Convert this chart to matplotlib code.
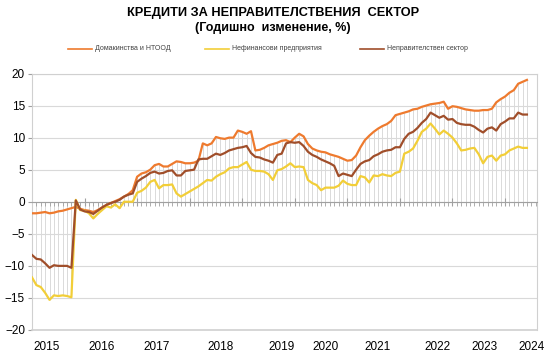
#!/usr/bin/env python3
# Loans to the non-government sector, annual change (%), monthly 2015-2024
import numpy as np
import matplotlib
matplotlib.use("Agg")
import matplotlib.pyplot as plt
from matplotlib.lines import Line2D
from matplotlib.transforms import blended_transform_factory

plt.rcParams['font.family'] = ['Liberation Sans', 'DejaVu Sans']

#==============================================================================
# Data (monthly, Jan 2015 .. Jun 2024)
#==============================================================================
households = [
    -1.8, -1.8, -1.7, -1.6, -1.8, -1.7, -1.5, -1.4, -1.2, -1.0, -0.8, -1.1,
    -1.3, -1.4, -1.6, -1.3, -0.9, -0.5, -0.2, 0.1, 0.4, 0.8, 1.2, 1.8,
    3.9, 4.4, 4.6, 5.0, 5.7, 5.9, 5.5, 5.5, 5.9, 6.3, 6.2, 6.0,
    6.0, 6.1, 6.4, 9.1, 8.8, 9.1, 10.1, 9.9, 9.8, 10.0, 10.0, 11.1,
    10.9, 10.6, 11.0, 8.0, 8.1, 8.4, 8.8, 9.0, 9.2, 9.5, 9.6, 9.3,
    10.0, 10.6, 10.2, 9.0, 8.3, 8.0, 7.8, 7.7, 7.4, 7.2, 7.0, 6.7,
    6.4, 6.5, 7.2, 8.5, 9.6, 10.3, 10.9, 11.4, 11.8, 12.1, 12.6, 13.5,
    13.7, 13.9, 14.1, 14.4, 14.5, 14.8, 15.0, 15.2, 15.3, 15.4, 15.6, 14.5,
    14.9, 14.8, 14.6, 14.4, 14.3, 14.2, 14.2, 14.3, 14.3, 14.5, 15.5, 16.0,
    16.4, 17.0, 17.4, 18.4, 18.7, 19.0,
]
companies = [
    -11.8, -13.0, -13.3, -14.2, -15.3, -14.6, -14.7, -14.6, -14.7, -14.9, 0.3, -1.3,
    -1.4, -1.8, -2.6, -1.9, -1.3, -0.7, -0.9, -0.4, -1.0, 0.0, 0.0, 0.0,
    1.4, 1.7, 2.2, 3.1, 3.4, 2.1, 2.6, 2.6, 2.7, 1.3, 0.8, 1.2,
    1.6, 2.0, 2.4, 2.9, 3.4, 3.3, 3.9, 4.3, 4.6, 5.2, 5.4, 5.4,
    5.8, 6.2, 5.0, 4.8, 4.8, 4.7, 4.3, 3.4, 4.9, 5.1, 5.5, 6.0,
    5.4, 5.5, 5.4, 3.4, 2.9, 2.6, 1.8, 2.2, 2.2, 2.2, 2.5, 3.3,
    2.8, 2.6, 2.6, 4.0, 3.8, 3.0, 4.1, 4.0, 4.3, 4.1, 4.0, 4.5,
    4.7, 7.5, 7.8, 8.3, 9.5, 10.9, 11.4, 12.2, 11.4, 10.5, 11.1, 10.6,
    10.0, 9.1, 8.0, 8.1, 8.3, 8.4, 7.4, 6.0, 7.0, 7.2, 6.4, 7.2,
    7.4, 8.0, 8.3, 8.6, 8.4, 8.4,
]
non_gov = [
    -8.3, -8.9, -9.0, -9.6, -10.3, -9.9, -10.0, -10.0, -10.0, -10.3, 0.2, -1.2,
    -1.5, -1.6, -1.9, -1.4, -0.9, -0.5, -0.2, 0.0, 0.3, 0.8, 1.1, 1.3,
    3.1, 3.6, 4.0, 4.5, 4.7, 4.4, 4.5, 4.8, 4.9, 4.1, 4.1, 4.8,
    4.9, 5.0, 6.6, 6.7, 6.7, 7.1, 7.5, 7.3, 7.6, 8.0, 8.2, 8.4,
    8.5, 8.7, 7.6, 7.0, 6.9, 6.6, 6.4, 6.1, 7.3, 7.5, 9.1, 9.3,
    9.2, 9.3, 8.7, 7.8, 7.3, 7.0, 6.6, 6.3, 6.0, 5.6, 4.0, 4.4,
    4.2, 4.0, 5.0, 5.9, 6.3, 6.5, 7.1, 7.4, 7.8, 8.0, 8.1, 8.5,
    8.5, 9.8, 10.6, 10.9, 11.5, 12.3, 12.9, 13.9, 13.5, 13.1, 13.4, 12.8,
    12.9, 12.3, 12.1, 12.0, 12.0, 11.7, 11.2, 10.8, 11.4, 11.6, 11.1, 12.1,
    12.5, 13.0, 13.0, 13.9, 13.6, 13.6,
]
years = ["2015", "2016", "2017", "2018", "2019", "2020", "2021", "2022", "2023", "2024"]
labels = ["Домакинства и НТООД", "Нефинансови предприятия", "Неправителствен сектор"]

#==============================================================================
# Layout / style
#==============================================================================
colors = ["#EE7A2E", "#F2CE38", "#A04E2A"]
year_label_x = [3.4, 16.0, 28.5, 43.0, 57.0, 67.0, 79.0, 92.5, 103.4, 114.0]
n_slots = 115.3

series = [households, companies, non_gov]
x = np.arange(len(households))

fig = plt.figure(figsize=(5.54, 3.58), dpi=100)
ax = fig.add_axes([32 / 554, 1 - 330 / 358, 505 / 554, 256.5 / 358])

# drop lines
allv = np.array(series)
lo = np.minimum(0, allv.min(axis=0))
hi = np.maximum(0, allv.max(axis=0))
ax.vlines(x, lo, hi, color="#cccccc", lw=0.5, zorder=1)

for s, c in zip(series, colors):
    ax.plot(x, s, color=c, lw=1.6, zorder=3)

ax.set_xlim(0, n_slots)
ax.set_ylim(-20, 20)
ax.set_yticks(np.arange(-20, 21, 5))
ax.yaxis.grid(True, color="#d9d9d9", lw=0.8, zorder=0)
ax.tick_params(axis="y", direction="out", length=3, color="#a0a0a0",
               labelsize=8.5, pad=2)

# zero axis with month / year ticks
ax.spines["bottom"].set_position(("data", 0))
ax.spines["bottom"].set_color("#a0a0a0")
ax.set_xticks(np.arange(12, n_slots, 12))
ax.set_xticks(np.arange(0, n_slots, 1), minor=True)
ax.tick_params(axis="x", which="major", direction="inout", length=6,
               color="#a0a0a0", labelbottom=False)
ax.tick_params(axis="x", which="minor", direction="out", length=3,
               color="#a0a0a0", width=0.6)
for side in ["left", "right", "top"]:
    ax.spines[side].set_color("#d0d0d0")
ax.axhline(-20, color="#d0d0d0", lw=1.2, clip_on=False)

trans = blended_transform_factory(ax.transData, ax.transAxes)
for pos, yr in zip(year_label_x, years):
    ax.text(pos, -0.066, yr, transform=trans, ha="center", va="center",
            fontsize=8.5)

# title
fig.text(0.492, 1 - 13 / 358, "КРЕДИТИ ЗА НЕПРАВИТЕЛСТВЕНИЯ  СЕКТОР",
         ha="center", va="center", fontsize=9.2, fontweight="bold")
fig.text(0.492, 1 - 28 / 358, "(Годишно  изменение, %)",
         ha="center", va="center", fontsize=9, fontweight="bold")

# legend
leg_x = [68, 205, 360]
for lx, lab, c in zip(leg_x, labels, colors):
    yy = 1 - 49 / 358
    fig.add_artist(Line2D([lx / 554, (lx + 24) / 554], [yy, yy], color=c,
                          lw=1.2, transform=fig.transFigure))
    fig.text((lx + 27) / 554, yy, lab, ha="left", va="center", fontsize=5,
             color="#404040")

fig.savefig("out.png", dpi=100)
plt.close(fig)
